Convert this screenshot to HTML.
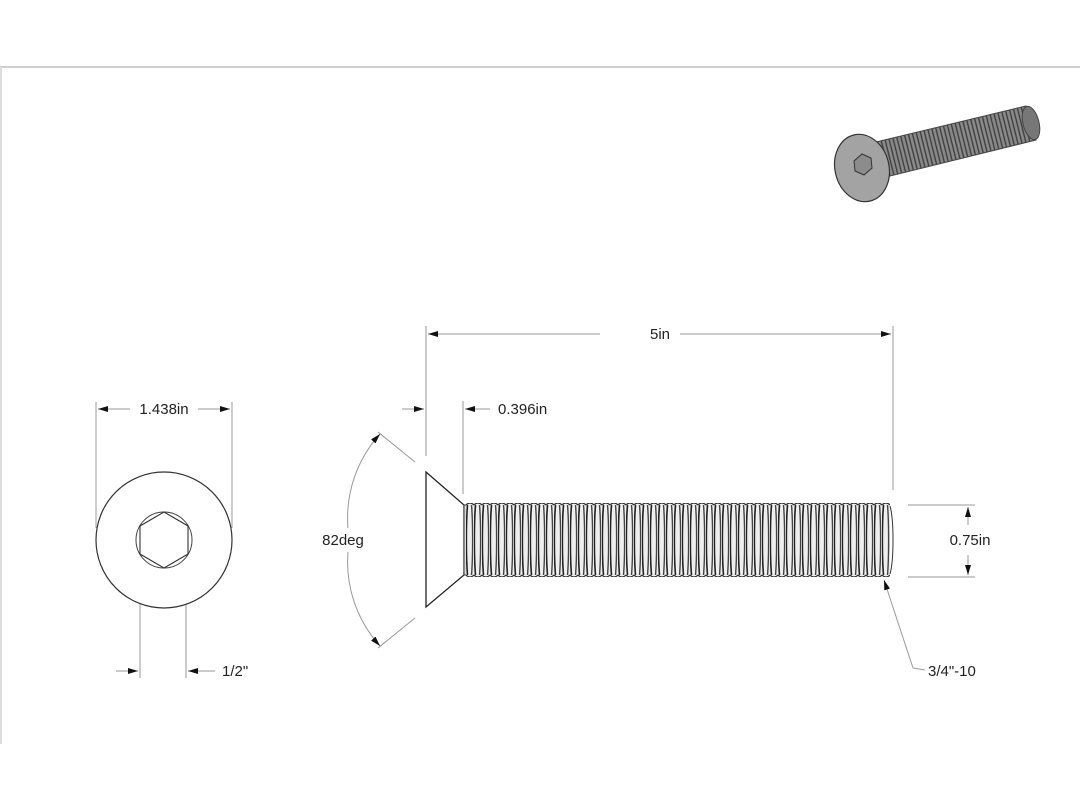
<!DOCTYPE html>
<html><head><meta charset="utf-8"><style>
html,body{margin:0;padding:0;background:#fff;}
svg{display:block;}
text{font-family:"Liberation Sans",sans-serif;font-size:15px;fill:#222;}
</style></head><body>
<svg width="1080" height="810" viewBox="0 0 1080 810" xmlns="http://www.w3.org/2000/svg">
<defs>
<pattern id="thr" x="466" y="503" width="8" height="74" patternUnits="userSpaceOnUse">
<rect width="8" height="74" fill="#eee"/>
<path d="M1.5 2 C0 20,0 54,1.5 72" stroke="#222" stroke-width="1.6" fill="none"/>
<path d="M5.5 2 C7 20,7 54,5.5 72" stroke="#444" stroke-width="1.4" fill="none"/>
<path d="M0 2 Q4 -2 8 2 M0 72 Q4 76 8 72" stroke="#333" stroke-width="1.2" fill="none"/>
</pattern>
<pattern id="thr3" width="4" height="40" patternUnits="userSpaceOnUse" patternTransform="rotate(-14)">
<rect width="4" height="40" fill="#8a8a8a"/>
<line x1="1" y1="0" x2="1" y2="40" stroke="#3a3a3a" stroke-width="1.3"/>
</pattern>
<marker id="ar" markerWidth="10" markerHeight="6" refX="10" refY="3" orient="auto" markerUnits="userSpaceOnUse">
<path d="M0 0 L10 3 L0 6Z" fill="#111"/>
</marker>
</defs>
<line x1="0" y1="67" x2="1080" y2="67" stroke="#cfcfcf" stroke-width="2"/>
<line x1="1" y1="67" x2="1" y2="744" stroke="#ddd" stroke-width="2"/>

<!-- 3D screw -->
<g>
<path d="M872 143 L1026 106 L1036 140 L882 178 Z" fill="url(#thr3)" stroke="#444" stroke-width="1"/>
<ellipse cx="1031" cy="123" rx="8" ry="17" transform="rotate(-14 1031 123)" fill="#777" stroke="#444"/>
<ellipse cx="862" cy="168" rx="27" ry="34" transform="rotate(-14 862 168)" fill="#a3a3a3" stroke="#333" stroke-width="1.2"/>
<polygon points="862,154 871,158 872,168 864,175 855,171 854,161" fill="#8c8c8c" stroke="#333"/>
</g>

<g stroke="#999" stroke-width="1" fill="none">
<line x1="426" y1="326" x2="426" y2="456"/>
<line x1="893" y1="326" x2="893" y2="490"/>
<line x1="463" y1="401" x2="463" y2="494"/>
<line x1="908" y1="505" x2="975" y2="505"/>
<line x1="908" y1="577" x2="975" y2="577"/>
<line x1="378" y1="432" x2="415" y2="462"/>
<line x1="378" y1="648" x2="415" y2="618"/>
<line x1="96" y1="402" x2="96" y2="528"/>
<line x1="232" y1="402" x2="232" y2="528"/>
<line x1="140" y1="568" x2="140" y2="678"/>
<line x1="186" y1="568" x2="186" y2="678"/>
</g>

<g stroke="#999" stroke-width="1" fill="none">
<line x1="600" y1="334" x2="428" y2="334" marker-end="url(#ar)"/>
<line x1="680" y1="334" x2="891" y2="334" marker-end="url(#ar)"/>
<line x1="402" y1="409" x2="424" y2="409" marker-end="url(#ar)"/>
<line x1="490" y1="409" x2="465" y2="409" marker-end="url(#ar)"/>
<line x1="968" y1="525" x2="968" y2="507" marker-end="url(#ar)"/>
<line x1="968" y1="555" x2="968" y2="575" marker-end="url(#ar)"/>
<path d="M348 528 A125 125 0 0 1 380 434" marker-end="url(#ar)"/>
<path d="M348 552 A125 125 0 0 0 380 646" marker-end="url(#ar)"/>
<line x1="130" y1="409" x2="98" y2="409" marker-end="url(#ar)"/>
<line x1="198" y1="409" x2="230" y2="409" marker-end="url(#ar)"/>
<line x1="116" y1="671" x2="138" y2="671" marker-end="url(#ar)"/>
<line x1="215" y1="671" x2="188" y2="671" marker-end="url(#ar)"/>
<polyline points="913,668 925,670" />
<line x1="913" y1="668" x2="884" y2="580" marker-end="url(#ar)"/>
</g>

<polygon points="426,472 464,505 464,575 426,607" fill="#fff" stroke="#222" stroke-width="1.3"/>
<rect x="464" y="505" width="6" height="70" fill="#ddd" stroke="#333" stroke-width="1"/>
<rect x="466" y="503" width="424" height="74" fill="url(#thr)"/>
<path d="M890 506 C894 520 894 560 890 574" stroke="#333" fill="none"/>

<circle cx="164" cy="540" r="68" fill="#fff" stroke="#333" stroke-width="1.2"/>
<circle cx="164" cy="540" r="28" fill="none" stroke="#444" stroke-width="1"/>
<polygon points="164,512 188,526 188,554 164,568 140,554 140,526" fill="none" stroke="#333" stroke-width="1.1"/>

<text x="660" y="339" text-anchor="middle">5in</text>
<text x="498" y="414">0.396in</text>
<text x="164" y="414" text-anchor="middle">1.438in</text>
<text x="222" y="676">1/2"</text>
<text x="343" y="545" text-anchor="middle">82deg</text>
<text x="970" y="545" text-anchor="middle">0.75in</text>
<text x="928" y="676">3/4"-10</text>
</svg>
</body></html>
